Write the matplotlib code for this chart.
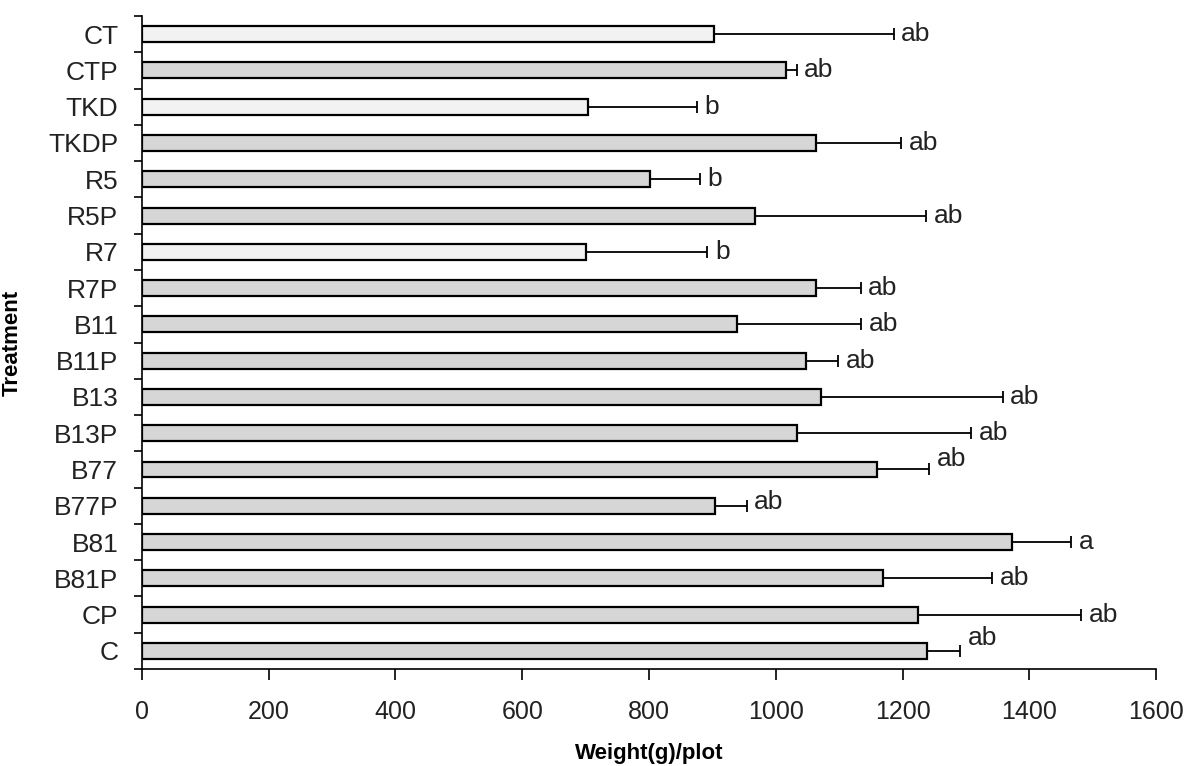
import numpy as np
import matplotlib
matplotlib.use("Agg")
import matplotlib.pyplot as plt

plt.rcParams['font.family'] = ['Liberation Sans', 'DejaVu Sans']

# data, read top to bottom as in the picture
treatments = ["CT", "CTP", "TKD", "TKDP", "R5", "R5P", "R7", "R7P", "B11",
              "B11P", "B13", "B13P", "B77", "B77P", "B81", "B81P", "CP", "C"]
weight = [903, 1016, 703, 1063, 802, 967, 701, 1063, 939,
          1047, 1071, 1033, 1160, 904, 1372, 1169, 1224, 1238]
weight_err = [283, 17, 172, 135, 78, 270, 191, 71, 196,
              51, 287, 275, 82, 50, 94, 172, 258, 53]
letters = ["ab", "ab", "b", "ab", "b", "ab", "b", "ab", "ab",
           "ab", "ab", "ab", "ab", "ab", "a", "ab", "ab", "ab"]

x_ticks = [0, 200, 400, 600, 800, 1000, 1200, 1400, 1600]

# the few whiter-looking bars in the scan
light_bars = {"CT", "TKD", "R7"}
# small vertical nudges of the significance letters
label_nudge = {"C": 0.35, "B77": 0.3, "B77P": 0.1}

n = len(treatments)
ypos = np.arange(n)[::-1]

fig = plt.figure(figsize=(11.89, 7.66), dpi=100)
ax = fig.add_axes([0.1194, 0.1266, 0.8529, 0.8525])

colors = ['#f2f2f2' if t in light_bars else '#d6d6d6' for t in treatments]
ax.barh(ypos, weight, height=0.44, color=colors, edgecolor='black', linewidth=1.6, zorder=2)
ax.errorbar(weight, ypos, xerr=[np.zeros(n), weight_err], fmt='none',
            ecolor='black', elinewidth=1.3, capsize=4.5, capthick=1.3, zorder=3)

for t, y, v, e, lab in zip(treatments, ypos, weight, weight_err, letters):
    ax.text(v + e + 12, y + label_nudge.get(t, 0), lab, ha='left', va='center',
            fontsize=19, color='#222222')

ax.set_xlim(0, 1600)
ax.set_ylim(-0.5, n - 0.5)
ax.set_xticks(x_ticks)
ax.set_xticklabels([str(v) for v in x_ticks])

# category tick marks at the boundaries, labels in the middle
ax.set_yticks(np.arange(-0.5, n, 1.0))
ax.set_yticklabels([])
ax.set_yticks(ypos, minor=True)
ax.set_yticklabels(treatments, minor=True)
ax.tick_params(axis='y', which='major', direction='out', length=6, width=1.2)
ax.tick_params(axis='y', which='minor', length=0, pad=17, labelsize=19, labelcolor='#222222')
ax.tick_params(axis='x', direction='out', length=8, width=1.2, pad=14,
               labelsize=18, labelcolor='#222222')

for s in ['top', 'right']:
    ax.spines[s].set_visible(False)
for s in ['left', 'bottom']:
    ax.spines[s].set_linewidth(1.2)

ax.set_xlabel("Weight(g)/plot", fontsize=16, fontweight='bold', labelpad=14)
ax.set_ylabel("Treatment", fontsize=16, fontweight='bold')
ax.yaxis.set_label_coords(-0.118, 0.5)

fig.savefig("out.png", dpi=100)
